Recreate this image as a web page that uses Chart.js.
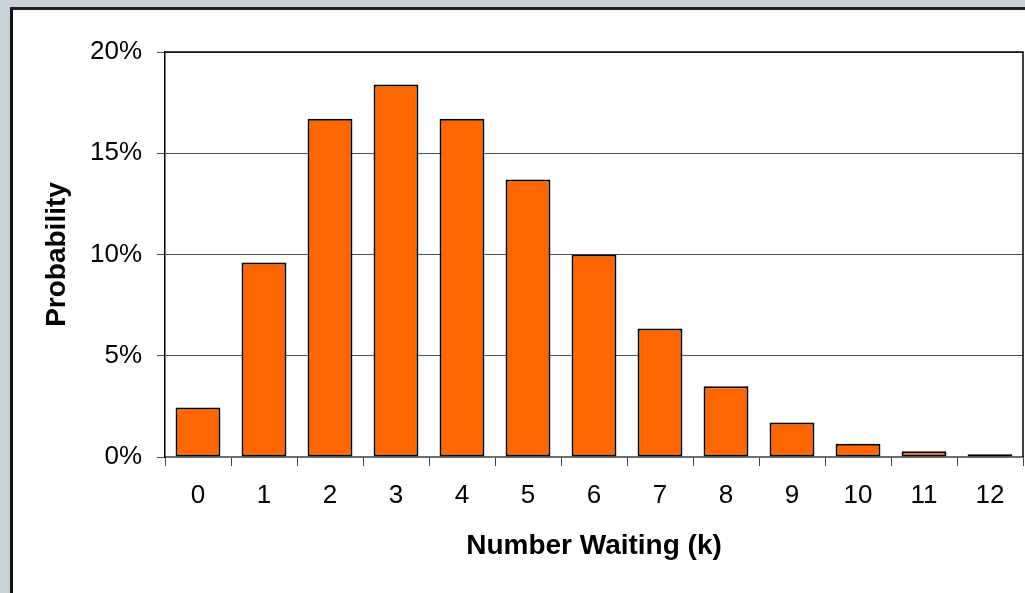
<!DOCTYPE html>
<html>
<head>
<meta charset="utf-8">
<script src="https://cdn.jsdelivr.net/npm/chart.js@4.4.1/dist/chart.umd.min.js"></script>
<style>
  html, body { margin: 0; padding: 0; }
  body { width: 1025px; height: 593px; background: #c7d2d9; position: relative; overflow: hidden; }
  #panel { position: absolute; left: 10px; top: 7px; width: 1030px; height: 600px;
           background: #ffffff; border-left: 3px solid #111; border-top: 3px solid #222; }
  #wrap { position: absolute; left: 0; top: 0; width: 1025px; height: 593px; }
</style>
</head>
<body>
<div id="panel"></div>
<div id="wrap"><canvas id="chart" width="1025" height="593"></canvas></div>
<script>
// Probability of k customers waiting
const waitingCounts = ['0', '1', '2', '3', '4', '5', '6', '7', '8', '9', '10', '11', '12'];
const probabilityPct = [2.45, 9.6, 16.7, 18.4, 16.7, 13.7, 10.0, 6.35, 3.5, 1.7, 0.65, 0.28, 0.13];
const yTickValues = [0, 5, 10, 15, 20];

const FONT = '"Liberation Sans", Arial, sans-serif';

// Frame the plot area on its top and right sides
const plotFrame = {
  id: 'plotFrame',
  afterDraw(chart) {
    const { ctx, chartArea: a } = chart;
    ctx.save();
    ctx.strokeStyle = '#000';
    ctx.lineWidth = 1.5;
    ctx.beginPath();
    ctx.moveTo(a.left, a.top);
    ctx.lineTo(a.right, a.top);
    ctx.lineTo(a.right, a.bottom);
    ctx.stroke();
    ctx.restore();
  }
};

new Chart(document.getElementById('chart'), {
  type: 'bar',
  data: {
    labels: waitingCounts,
    datasets: [{
      data: probabilityPct,
      backgroundColor: '#ff6600',
      borderColor: '#000000',
      borderWidth: 2,
      borderSkipped: false,
      barPercentage: 0.68,
      categoryPercentage: 1.0
    }]
  },
  options: {
    responsive: false,
    animation: false,
    layout: { padding: { top: 52, right: 2, left: 0, bottom: 0 } },
    plugins: { legend: { display: false }, tooltip: { enabled: false } },
    scales: {
      x: {
        grid: { display: true, drawOnChartArea: false, tickLength: 9, color: '#444', lineWidth: 1 },
        border: { display: true, color: '#6e6e6e', width: 2 },
        ticks: { color: '#000', font: { family: FONT, size: 26 }, padding: 14, maxRotation: 0, autoSkip: false },
        title: {
          display: true, text: 'Number Waiting (k)', color: '#000',
          font: { family: FONT, size: 28, weight: 'bold' }, padding: { top: 0, bottom: 30 }
        },
        afterFit(scale) { scale.height = 136; scale.paddingLeft = 0; scale.paddingRight = 0; }
      },
      y: {
        min: 0, max: 20,
        afterBuildTicks(scale) { scale.ticks = yTickValues.map(v => ({ value: v })); },
        grid: { color: '#4d4d4d', lineWidth: 1, tickLength: 8 },
        border: { display: true, color: '#000', width: 1.5 },
        ticks: { color: '#000', font: { family: FONT, size: 26 }, padding: 15, callback: v => v + '%' },
        title: {
          display: true, text: 'Probability', color: '#000',
          font: { family: FONT, size: 28, weight: 'bold' }, padding: { top: 40, bottom: 0 }
        },
        afterFit(scale) { scale.width = 165; scale.paddingTop = 0; scale.paddingBottom = 0; }
      }
    }
  },
  plugins: [plotFrame]
});
</script>
</body>
</html>
